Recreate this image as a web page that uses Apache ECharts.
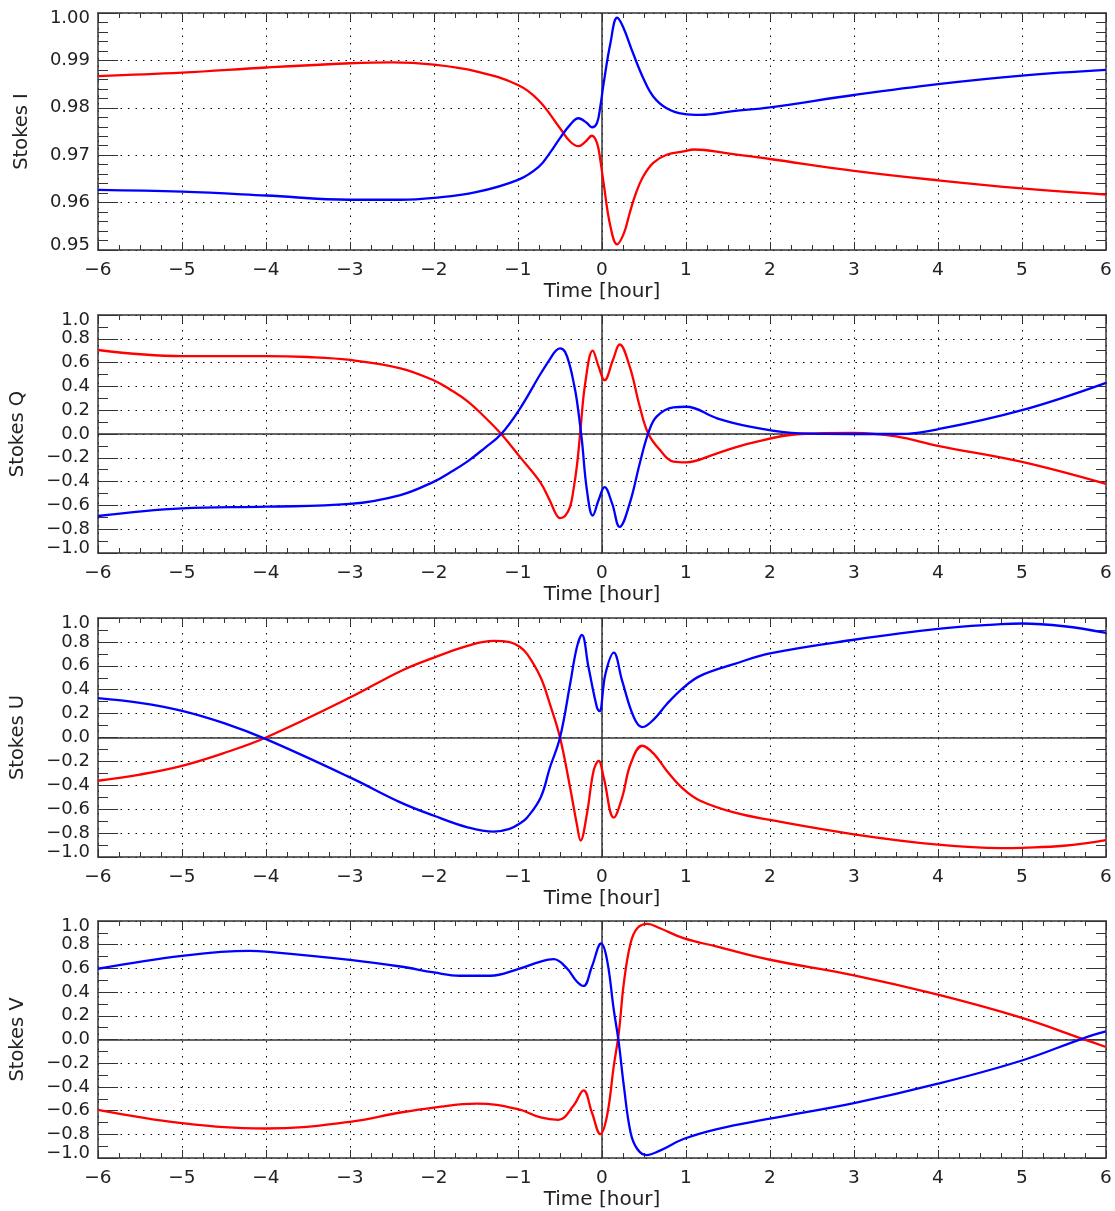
<!DOCTYPE html>
<html>
<head>
<meta charset="utf-8">
<script src="https://cdn.jsdelivr.net/npm/echarts@6/dist/echarts.min.js"></script>
<style>
html,body{margin:0;padding:0;background:#fff;}
#chart{width:1115px;height:1211px;}
</style>
</head>
<body>
<div id="chart"></div>
<script>
// ---------- data ----------
const xTicks = [-6, -5, -4, -3, -2, -1, 0, 1, 2, 3, 4, 5, 6];
const yTicksI = [0.95, 0.96, 0.97, 0.98, 0.99, 1.00];
const yTicksQUV = [-1.0, -0.8, -0.6, -0.4, -0.2, 0.0, 0.2, 0.4, 0.6, 0.8, 1.0];
const panelNames = ['Stokes I', 'Stokes Q', 'Stokes U', 'Stokes V'];
const xAxisName = 'Time [hour]';

const stokesI_red = [[-6,0.9867],[-5,0.9874],[-4,0.9885],[-3,0.9894],[-2.5,0.9896],[-2,0.9891],[-1.5,0.9877],[-1,0.9848],[-0.75,0.9815],[-0.5,0.9757],[-0.38,0.9729],[-0.28,0.9719],[-0.2,0.9728],[-0.12,0.9741],[-0.06,0.9726],[-0.02,0.9690],[0.02,0.9640],[0.1,0.9550],[0.18,0.9512],[0.26,0.9535],[0.33,0.9578],[0.4,0.9618],[0.49,0.9655],[0.61,0.9684],[0.77,0.9701],[0.97,0.9708],[1.1,0.9712],[1.5,0.9704],[2,0.9692],[3,0.9667],[4,0.9647],[5,0.9630],[6,0.9617]];
const stokesI_blue = [[-6,0.9627],[-5,0.9623],[-4,0.9615],[-3,0.9606],[-2.4,0.9606],[-2,0.9610],[-1.5,0.9622],[-1,0.9648],[-0.75,0.9676],[-0.62,0.9705],[-0.5,0.9736],[-0.38,0.9764],[-0.28,0.9778],[-0.18,0.9768],[-0.12,0.9759],[-0.06,0.9768],[-0.02,0.9803],[0.02,0.9852],[0.1,0.9936],[0.18,0.9990],[0.25,0.9971],[0.37,0.9915],[0.49,0.9863],[0.61,0.9824],[0.77,0.9799],[0.97,0.9787],[1.17,0.9785],[1.56,0.9793],[2,0.9801],[3,0.9827],[4,0.9850],[5,0.9868],[6,0.9880]];

const stokesQ_red = [[-6,0.706],[-5,0.655],[-4,0.655],[-3.5,0.647],[-3,0.622],[-2.4,0.552],[-2,0.45],[-1.8,0.37],[-1.6,0.275],[-1.4,0.145],[-1.2,0.0],[-0.98,-0.19],[-0.74,-0.40],[-0.62,-0.56],[-0.55,-0.67],[-0.5,-0.707],[-0.44,-0.69],[-0.38,-0.611],[-0.34,-0.47],[-0.3,-0.275],[-0.26,0.005],[-0.2,0.426],[-0.11,0.70],[-0.04,0.566],[0.03,0.452],[0.13,0.622],[0.21,0.752],[0.33,0.566],[0.45,0.229],[0.55,0.005],[0.69,-0.134],[0.85,-0.232],[1.0,-0.238],[1.37,-0.162],[1.76,-0.078],[2.36,0.0],[3,0.01],[3.5,-0.02],[4,-0.1],[5,-0.235],[6,-0.42]];
const stokesQ_blue = [[-6,-0.689],[-5,-0.625],[-4,-0.611],[-3,-0.588],[-2.4,-0.513],[-2,-0.40],[-1.8,-0.32],[-1.6,-0.23],[-1.4,-0.12],[-1.2,0.0],[-0.98,0.21],[-0.74,0.496],[-0.62,0.63],[-0.55,0.70],[-0.5,0.72],[-0.44,0.69],[-0.38,0.566],[-0.34,0.44],[-0.3,0.286],[-0.24,-0.05],[-0.18,-0.47],[-0.11,-0.685],[-0.04,-0.555],[0.03,-0.447],[0.12,-0.583],[0.21,-0.78],[0.33,-0.583],[0.45,-0.246],[0.55,0.005],[0.65,0.146],[0.85,0.224],[1.0,0.229],[1.37,0.132],[1.76,0.062],[2.36,0.005],[3,0.0],[3.5,0.0],[4,0.04],[5,0.2],[6,0.43]];

const stokesU_red = [[-6,-0.362],[-5.5,-0.31],[-5,-0.237],[-4.5,-0.13],[-4,0.0],[-3,0.334],[-2.4,0.555],[-2,0.669],[-1.6,0.767],[-1.29,0.808],[-1.1,0.798],[-0.98,0.76],[-0.89,0.697],[-0.73,0.502],[-0.62,0.279],[-0.5,0.0],[-0.38,-0.418],[-0.3,-0.724],[-0.255,-0.862],[-0.18,-0.641],[-0.1,-0.278],[-0.04,-0.195],[0.02,-0.334],[0.14,-0.67],[0.24,-0.502],[0.34,-0.222],[0.48,-0.069],[0.62,-0.139],[0.77,-0.278],[0.97,-0.432],[1.17,-0.529],[1.57,-0.627],[2,-0.69],[3,-0.81],[4,-0.897],[4.75,-0.926],[5,-0.923],[5.5,-0.906],[6,-0.858]];
const stokesU_blue = [[-6,0.33],[-5.5,0.29],[-5,0.223],[-4.5,0.12],[-4,-0.014],[-3,-0.334],[-2.4,-0.543],[-2,-0.655],[-1.6,-0.752],[-1.29,-0.788],[-1.1,-0.765],[-0.98,-0.72],[-0.89,-0.669],[-0.73,-0.502],[-0.62,-0.251],[-0.5,0.0],[-0.38,0.446],[-0.3,0.753],[-0.24,0.858],[-0.16,0.585],[-0.06,0.251],[-0.03,0.22],[0.04,0.53],[0.14,0.71],[0.24,0.474],[0.38,0.167],[0.48,0.087],[0.62,0.154],[0.77,0.279],[0.97,0.418],[1.17,0.516],[1.57,0.614],[2,0.704],[3,0.818],[4,0.909],[4.75,0.948],[5,0.954],[5.5,0.931],[6,0.876]];

const stokesV_red = [[-6,-0.594],[-5,-0.706],[-4,-0.751],[-3,-0.695],[-2.4,-0.616],[-2,-0.574],[-1.49,-0.541],[-1,-0.588],[-0.73,-0.658],[-0.52,-0.678],[-0.34,-0.56],[-0.22,-0.43],[-0.12,-0.616],[-0.02,-0.798],[0.06,-0.644],[0.14,-0.224],[0.2,0.056],[0.26,0.476],[0.34,0.813],[0.42,0.939],[0.54,0.975],[0.69,0.939],[0.97,0.855],[1.37,0.784],[2,0.673],[3,0.542],[4,0.378],[5,0.182],[5.73,0.003],[6,-0.063]];
const stokesV_blue = [[-6,0.597],[-5,0.706],[-4.2,0.748],[-4,0.742],[-3,0.672],[-2.4,0.616],[-2,0.566],[-1.69,0.538],[-1.33,0.538],[-1,0.594],[-0.73,0.658],[-0.575,0.678],[-0.42,0.602],[-0.3,0.49],[-0.22,0.452],[-0.12,0.616],[-0.01,0.81],[0.06,0.672],[0.14,0.252],[0.2,-0.028],[0.26,-0.392],[0.34,-0.784],[0.42,-0.924],[0.53,-0.975],[0.69,-0.938],[0.97,-0.84],[1.37,-0.756],[2,-0.668],[3,-0.537],[4,-0.373],[5,-0.177],[5.73,0.01],[6,0.068]];

// ---------- chart construction ----------
const seriesData = [
  [stokesI_red, stokesI_blue],
  [stokesQ_red, stokesQ_blue],
  [stokesU_red, stokesU_blue],
  [stokesV_red, stokesV_blue]
];
const yTickSets = [yTicksI, yTicksQUV, yTicksQUV, yTicksQUV];
const yDecimals = [2, 1, 1, 1];
const yMinorSplit = [5, 2, 2, 2];
const gridTops = [13, 315, 618, 921];
const gridHeights = [237, 238, 239, 238];
const yNameGaps = [66, 70, 70, 70];

const FONT = 'DejaVu Sans';
const TXT = '#222';
const AX = '#333';
const FS = 18;
const fmtNum = (v, d) => {
  const s = Math.abs(v).toFixed(d);
  return (v < -1e-9 ? '\u2212' : '') + s;
};

const grids = [], xAxes = [], yAxes = [], series = [];
for (let p = 0; p < 4; p++) {
  const yt = yTickSets[p];
  const ymin = yt[0], ymax = yt[yt.length - 1];
  const yint = +(yt[1] - yt[0]).toFixed(4);
  grids.push({left: 98, right: 9, top: gridTops[p], height: gridHeights[p], show: false});
  const commonX = {
    type: 'value', gridIndex: p, min: xTicks[0], max: xTicks[xTicks.length - 1], interval: xTicks[1] - xTicks[0],
    axisLine: {show: true, onZero: false, lineStyle: {color: AX, width: 1.5}},
    axisTick: {show: true, inside: true, length: 8, lineStyle: {color: AX, width: 1}},
    minorTick: {show: true, splitNumber: 4, length: 5, lineStyle: {color: AX, width: 1}}
  };
  xAxes.push(Object.assign({}, commonX, {
    position: 'bottom',
    splitLine: {show: true, lineStyle: {color: '#000', width: 1, type: [1.5, 6]}},
    axisLabel: {show: true, fontFamily: FONT, fontSize: 18.5, color: TXT, margin: 11,
      formatter: v => fmtNum(v, 0)},
    name: xAxisName, nameLocation: 'middle', nameGap: 32,
    nameTextStyle: {fontFamily: FONT, fontSize: 20, color: TXT}
  }));
  xAxes.push(Object.assign({}, commonX, {
    position: 'top', splitLine: {show: false}, axisLabel: {show: false}
  }));
  const commonY = {
    type: 'value', gridIndex: p, min: ymin, max: ymax, interval: yint,
    axisLine: {show: true, onZero: false, lineStyle: {color: AX, width: 1.5}},
    axisTick: {show: true, inside: true, length: 20, lineStyle: {color: AX, width: 1}},
    minorTick: {show: true, splitNumber: yMinorSplit[p], length: 10, lineStyle: {color: AX, width: 1}}
  };
  const d = yDecimals[p];
  yAxes.push(Object.assign({}, commonY, {
    position: 'left',
    splitLine: {show: true, lineStyle: {color: '#000', width: 1, type: [1.5, 6]}},
    axisLabel: {show: true, fontFamily: FONT, fontSize: FS, color: TXT, margin: 8,
      formatter: v => {
        const s = fmtNum(v, d);
        if (Math.abs(v - ymax) < 1e-9) return '{top|' + s + '}';
        if (Math.abs(v - ymin) < 1e-9) return '{bot|' + s + '}';
        return s;
      },
      rich: {
        top: {fontFamily: FONT, fontSize: FS, color: TXT, padding: [11, 0, 0, 0]},
        bot: {fontFamily: FONT, fontSize: FS, color: TXT, padding: [0, 0, 10, 0]}
      }
    },
    name: panelNames[p], nameLocation: 'middle', nameGap: yNameGaps[p],
    nameTextStyle: {fontFamily: FONT, fontSize: 19.5, color: TXT}
  }));
  yAxes.push(Object.assign({}, commonY, {
    position: 'right', splitLine: {show: false}, axisLabel: {show: false}
  }));

  const mlData = [{xAxis: 0}];
  if (ymin < 0 && ymax > 0) mlData.push({yAxis: 0});
  const colors = ['#ff0000', '#0000ff'];
  for (let s = 0; s < 2; s++) {
    const ser = {
      type: 'line', xAxisIndex: 2 * p, yAxisIndex: 2 * p,
      data: seriesData[p][s], showSymbol: false, smooth: 0.4, clip: true,
      lineStyle: {color: colors[s], width: 2.3}, itemStyle: {color: colors[s]},
      z: 3
    };
    if (s === 0) {
      ser.markLine = {silent: true, symbol: ['none', 'none'], label: {show: false},
        lineStyle: {color: AX, width: 1.5, type: 'solid'}, data: mlData, z: 2, animation: false};
    }
    series.push(ser);
  }
}

const chart = echarts.init(document.getElementById('chart'), null, {renderer: 'canvas'});
chart.setOption({
  backgroundColor: '#ffffff',
  animation: false,
  grid: grids, xAxis: xAxes, yAxis: yAxes, series: series
});
</script>
</body>
</html>
